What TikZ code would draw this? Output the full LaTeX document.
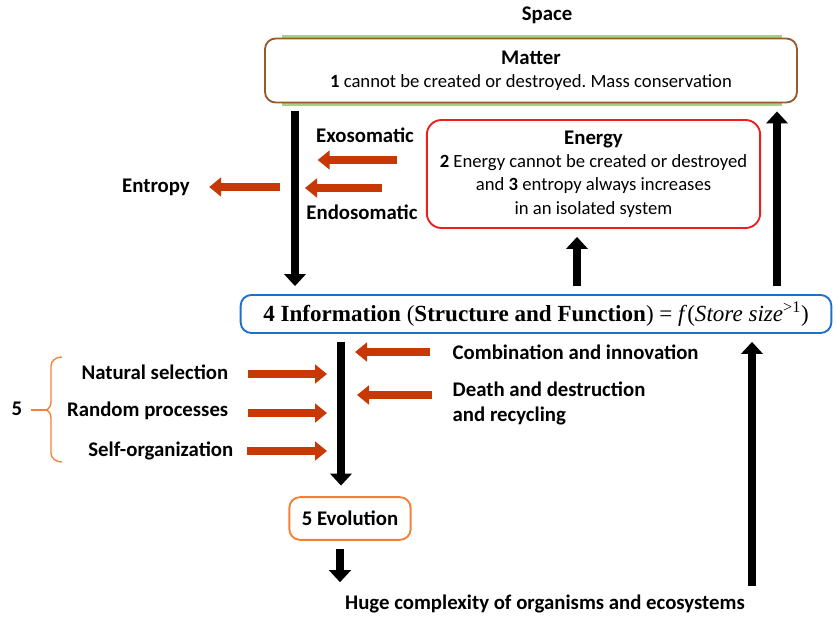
\documentclass[tikz,border=0pt]{standalone}
\usepackage{fontspec}
\setmainfont{Carlito}
\newfontfamily\infofont{Liberation Serif}
\usepackage{tikz}
\usetikzlibrary{arrows.meta, positioning}
\definecolor{rust}{RGB}{200,56,4}
\definecolor{bark}{RGB}{150,92,48}
\definecolor{sky}{RGB}{28,112,200}
\definecolor{tangerine}{RGB}{244,128,52}
\definecolor{sage}{RGB}{165,210,135}
\definecolor{alarm}{RGB}{236,30,30}
\frenchspacing

\begin{document}
\begin{tikzpicture}[x=0.75pt, y=-0.75pt,
  label/.style={font=\fontsize{15.6}{19}\selectfont\bfseries},
  box/.style={rectangle, draw, line width=1.4pt, rounded corners=8pt, align=center, font=\fontsize{14}{17.5}\selectfont},
  flow/.style={line width=6pt, -{Triangle[length=9pt, width=16pt]}, shorten <=6pt, shorten >=6pt},
  push/.style={rust, line width=6pt, -{Triangle[length=9pt, width=14pt]}}
]
\useasboundingbox (0,0) rectangle (836,621);

% Matter
\node[label] (space) at (547,15) {Space};
\draw[sage, line width=1.6pt] (282,36.5) -- (782,36.5);
\draw[sage, line width=1.6pt] (282,104.5) -- (782,104.5);
\node[box, draw=bark, fill=white, minimum width=399pt, minimum height=48pt] (matter) at (531,70.5)
  {{\fontsize{15.6}{19}\selectfont\bfseries Matter}\\\textbf{1} cannot be created or destroyed. Mass conservation};

% Energy
\node[box, draw=alarm, rounded corners=11pt, minimum width=250pt, minimum height=81pt] (energy) at (593.5,174)
  {{\fontsize{15.6}{19}\selectfont\bfseries Energy}\\\textbf{2} Energy cannot be created or destroyed\\and \textbf{3} entropy always increases\\in an isolated system};

% Information
\node[box, draw=sky, minimum width=443pt, minimum height=28.5pt, font=\infofont\fontsize{17.3}{20}\selectfont] (info) at (536,314)
  {\textbf{4 Information} (\textbf{Structure and Function}) = \textit{f}(\textit{Store size}\textsuperscript{>1})};

% Evolution
\node[box, draw=tangerine, minimum width=91pt, minimum height=32pt, font=\fontsize{15.6}{19}\selectfont\bfseries] (evo) at (350,518.5) {5 Evolution};
\node[label] (huge) at (545,604) {Huge complexity of organisms and ecosystems};

% columns of the black arrows
\coordinate (spineL) at (295,0);
\coordinate (spine) at (341,0);
\coordinate (riseE) at (577,0);
\coordinate (riseR) at (777,0);
\coordinate (riseH) at (752,0);
\coordinate (fallH) at (340,0);

\draw[flow] (matter.south -| spineL) -- (info.north -| spineL);
\draw[flow] (info.north -| riseE) -- (energy.south -| riseE);
\draw[flow] (info.north -| riseR) -- (matter.south -| riseR);
\draw[flow, shorten >=8pt] (info.south -| spine) -- (evo.north -| spine);
\draw[flow] (evo.south -| fallH) -- (huge.north -| fallH);
\draw[flow, shorten <=3pt] (huge.north -| riseH) -- (info.south -| riseH);

% Energy flows
\node[label] (exo) at (365,135) {Exosomatic};
\node[label] (endo) at (362,212) {Endosomatic};
\node[label] (entropy) at (156,187) {Entropy};
\coordinate (exoA) at (397,160);
\coordinate (endoA) at (382,188);
\coordinate (entA) at (280,187);
\draw[push] (exoA) -- ([xshift=17pt]exoA -| spineL);
\draw[push] (endoA) -- ([xshift=7.5pt]endoA -| spineL);
\draw[push, shorten >=11pt] (entA) -- (entropy.east |- entA);

% Evolution drivers
\node[label, anchor=east] (nat) at (233,372) {Natural selection};
\node[label, anchor=east] (rand) at (233,411) {Random processes};
\node[label, anchor=east] (self) at (238,451) {Self-organization};
\draw[push, shorten <=11pt, shorten >=10.5pt] (nat.east |- 0,374) -- (spine |- 0,374);
\draw[push, shorten <=11pt, shorten >=10.5pt] (rand.east |- 0,413) -- (spine |- 0,413);
\draw[push, shorten <=7pt, shorten >=10.5pt] (self.east) -- (self.east -| spine);

\node[label, anchor=west] (comb) at (448,352) {Combination and innovation};
\node[label, anchor=north west, align=left] (death) at (448,377) {Death and destruction\\and recycling};
\coordinate (deathA) at (432,395);
\draw[push, shorten <=13.5pt, shorten >=10.5pt] (comb.west) -- (comb.west -| spine);
\draw[push, shorten >=12pt] (deathA) -- (deathA -| spine);

% Bracket
\draw[tangerine, line width=1pt] (62,357) to[out=180, in=90] (51,366) -- (51,402) to[out=270, in=0] (45,410)
  to[out=0, in=90] (51,418) -- (51,453) to[out=270, in=180] (62,462);
\draw[tangerine, line width=1pt] (31,410) -- (45,410);
\node[label, font=\fontsize{15.6}{19}\selectfont] (five) at (17,409) {\textbf{5}};

\end{tikzpicture}
\end{document}
